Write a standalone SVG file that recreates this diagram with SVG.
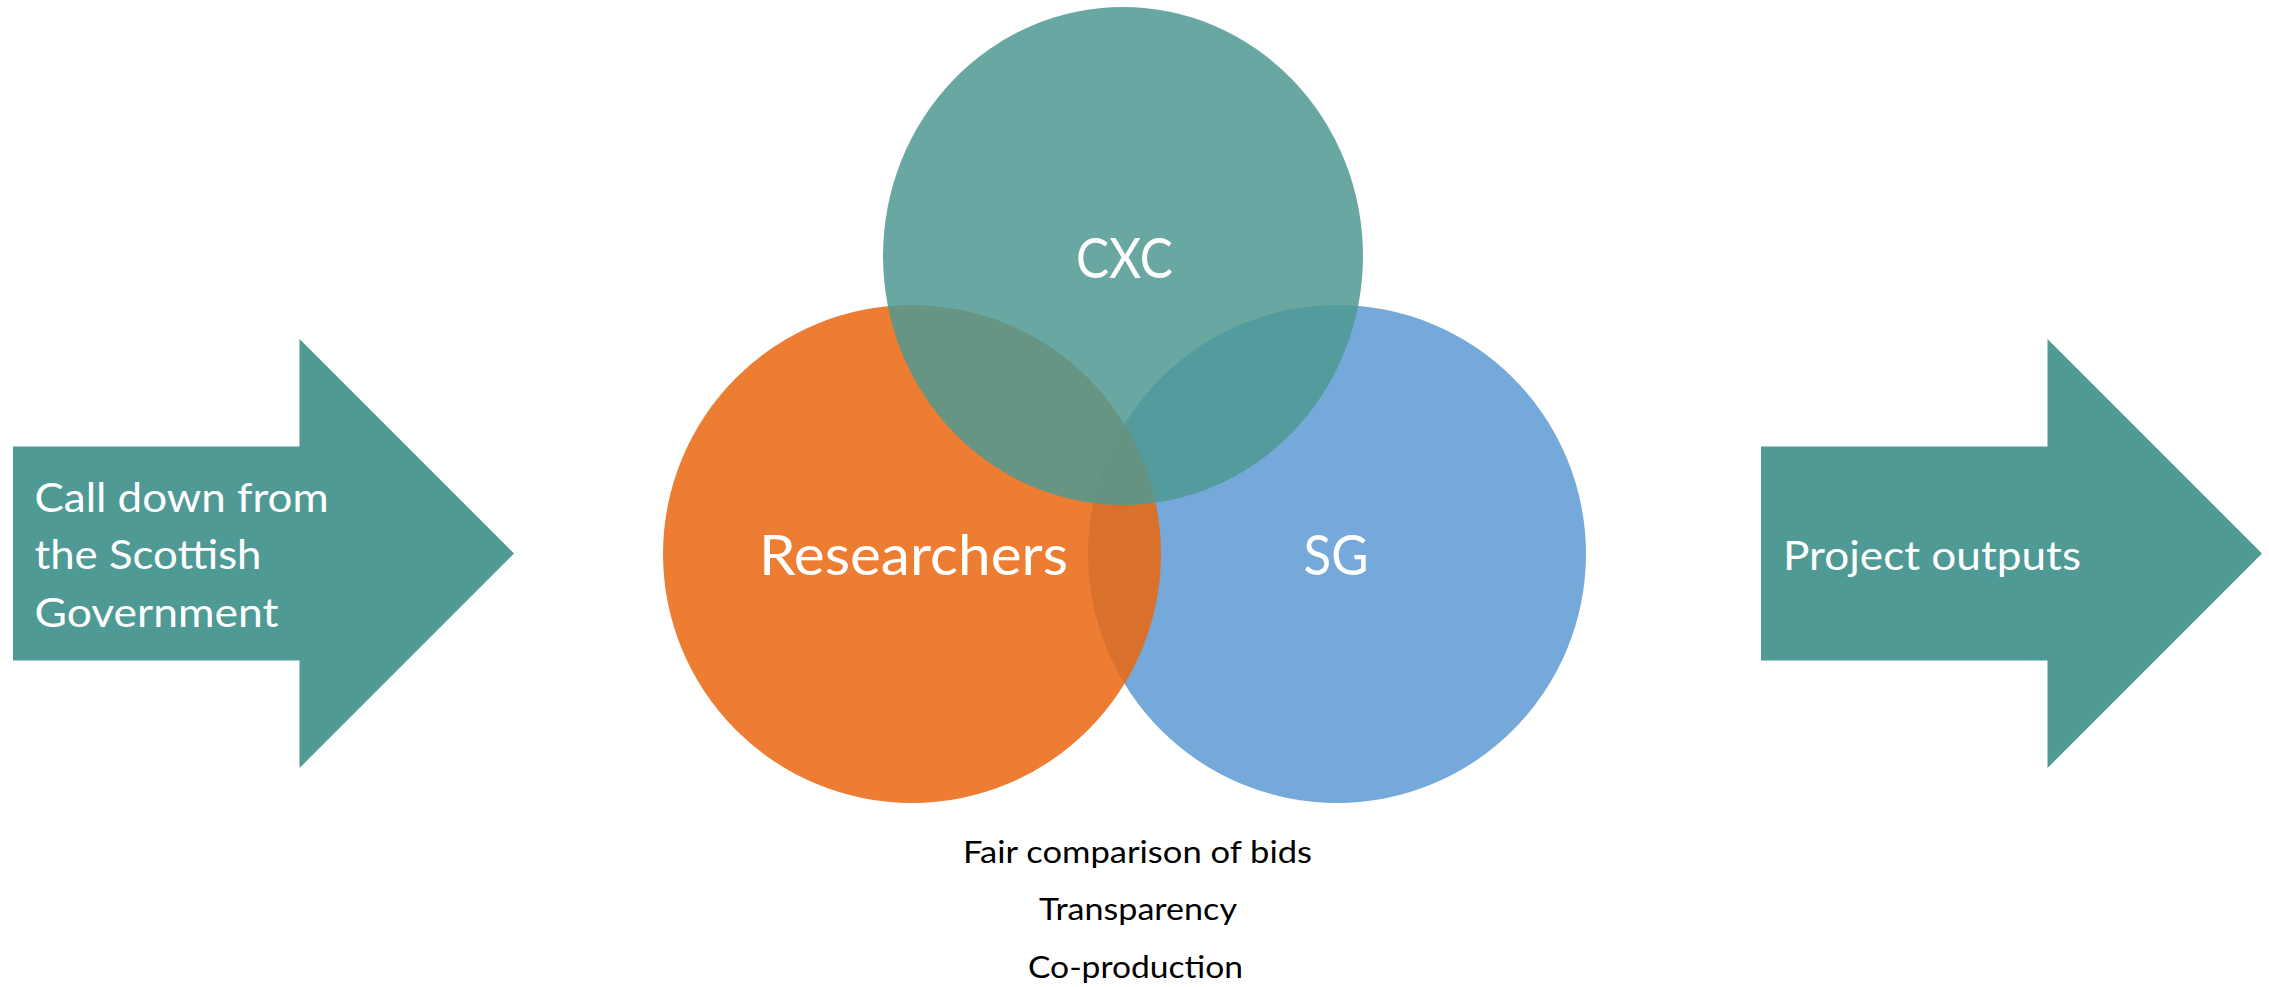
<svg xmlns="http://www.w3.org/2000/svg" width="2269" height="987" viewBox="0 0 2269 987">
  <style>
    .arrow { fill: #4F9A94; }
    .lbl { font-family: Lato, "Open Sans", "Liberation Sans", sans-serif; fill: #FFFFFF; }
    .arrowtxt { font-size: 41px; }
    .big { font-size: 57px; text-anchor: middle; }
    .note { font-family: Lato, "Open Sans", "Liberation Sans", sans-serif; fill: #000000; font-size: 30px; text-anchor: middle; }
  </style>
  <rect width="2269" height="987" fill="#FFFFFF"/>

  <g id="arrow-left">
    <polygon class="arrow" points="13,446.5 299.5,446.5 299.5,339 514,553.5 299.5,768 299.5,660.5 13,660.5"/>
    <text class="lbl arrowtxt" x="34.5" y="511.7" textLength="294" lengthAdjust="spacingAndGlyphs">Call down from</text>
    <text class="lbl arrowtxt" x="34.5" y="569.3" textLength="227" lengthAdjust="spacingAndGlyphs">the Scottish</text>
    <text class="lbl arrowtxt" x="34.5" y="626.7" textLength="244" lengthAdjust="spacingAndGlyphs">Government</text>
  </g>

  <g id="arrow-right">
    <polygon class="arrow" points="1761,446.5 2047.5,446.5 2047.5,339 2262,553.5 2047.5,768 2047.5,660.5 1761,660.5"/>
    <text class="lbl arrowtxt" x="1783" y="570" textLength="298" lengthAdjust="spacingAndGlyphs">Project outputs</text>
  </g>

  <g id="circle-sg">
    <circle cx="1337" cy="554" r="249" fill="#75A9DA"/>
  </g>
  <g id="circle-researchers">
    <circle cx="912" cy="554" r="249" fill="rgb(234,104,16)" fill-opacity="0.86"/>
  </g>
  <g id="circle-cxc">
    <ellipse cx="1123" cy="256" rx="240" ry="249" fill="rgb(79,153,146)" fill-opacity="0.85"/>
  </g>

  <g id="venn-labels">
    <text class="lbl big" x="1124.5" y="278" textLength="97" lengthAdjust="spacingAndGlyphs">CXC</text>
    <text class="lbl big" x="913.5" y="575" textLength="309" lengthAdjust="spacingAndGlyphs">Researchers</text>
    <text class="lbl big" x="1336" y="575" textLength="65" lengthAdjust="spacingAndGlyphs">SG</text>
  </g>

  <g id="principles">
    <text class="note" x="1137.5" y="863" textLength="349" lengthAdjust="spacingAndGlyphs">Fair comparison of bids</text>
    <text class="note" x="1138" y="920" textLength="198" lengthAdjust="spacingAndGlyphs">Transparency</text>
    <text class="note" x="1135.5" y="978" textLength="215" lengthAdjust="spacingAndGlyphs">Co-production</text>
  </g>

  <g id="connectors"/>
</svg>
